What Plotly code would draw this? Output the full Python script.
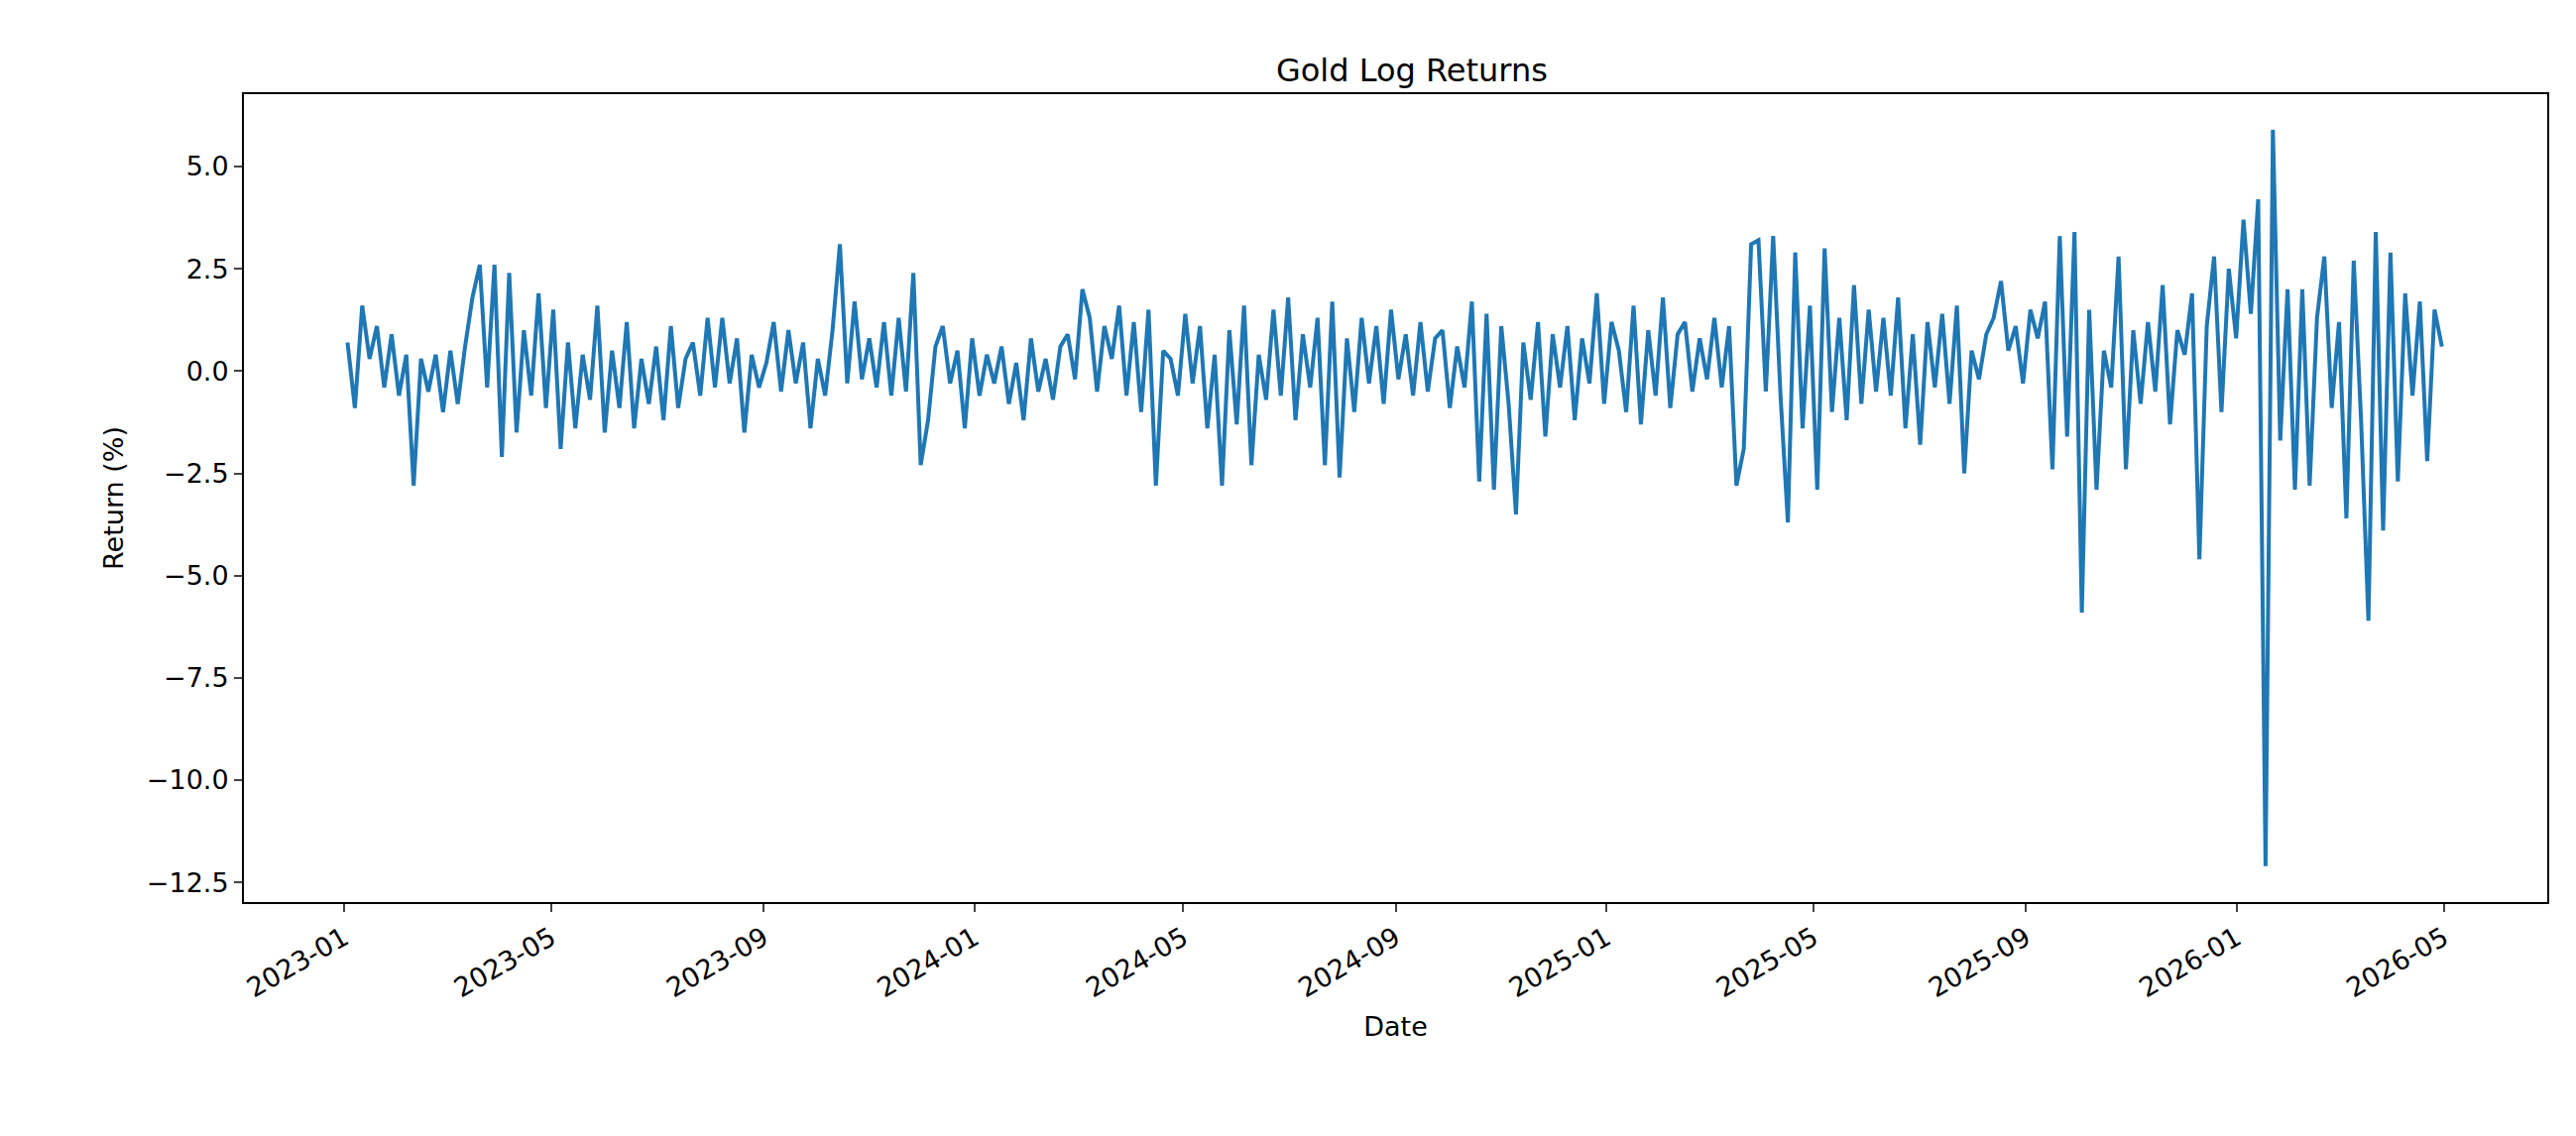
import pandas as pd
import plotly.graph_objects as go

# approximate readings, ~7 per month
returns = [
    0.7, -0.9, 1.6, 0.3, 1.1, -0.4, 0.9,
    -0.6, 0.4, -2.8, 0.3, -0.5, 0.4, -1.0,
    0.5, -0.8, 0.6, 1.8, 2.6, -0.4, 2.6,
    -2.1, 2.4, -1.5, 1.0, -0.6, 1.9, -0.9,
    1.5, -1.9, 0.7, -1.4, 0.4, -0.7, 1.6,
    -1.5, 0.5, -0.9, 1.2, -1.4, 0.3, -0.8,
    0.6, -1.2, 1.1, -0.9, 0.3, 0.7, -0.6,
    1.3, -0.4, 1.3, -0.3, 0.8, -1.5, 0.4,
    -0.4, 0.2, 1.2, -0.5, 1.0, -0.3, 0.7,
    -1.4, 0.3, -0.6, 1.0, 3.1, -0.3, 1.7,
    -0.2, 0.8, -0.4, 1.2, -0.6, 1.3, -0.5,
    2.4, -2.3, -1.2, 0.6, 1.1, -0.3, 0.5,
    -1.4, 0.8, -0.6, 0.4, -0.3, 0.6, -0.8,
    0.2, -1.2, 0.8, -0.5, 0.3, -0.7, 0.6,
    0.9, -0.2, 2.0, 1.3, -0.5, 1.1, 0.3,
    1.6, -0.6, 1.2, -1.0, 1.5, -2.8, 0.5,
    0.3, -0.6, 1.4, -0.3, 1.1, -1.4, 0.4,
    -2.8, 1.0, -1.3, 1.6, -2.3, 0.4, -0.7,
    1.5, -0.6, 1.8, -1.2, 0.9, -0.4, 1.3,
    -2.3, 1.7, -2.6, 0.8, -1.0, 1.3, -0.3,
    1.1, -0.8, 1.5, -0.2, 0.9, -0.6, 1.2,
    -0.5, 0.8, 1.0, -0.9, 0.6, -0.4, 1.7,
    -2.7, 1.4, -2.9, 1.1, -0.8, -3.5, 0.7,
    -0.7, 1.2, -1.6, 0.9, -0.4, 1.1, -1.2,
    0.8, -0.3, 1.9, -0.8, 1.2, 0.5, -1.0,
    1.6, -1.3, 1.0, -0.6, 1.8, -0.9, 0.9,
    1.2, -0.5, 0.8, -0.2, 1.3, -0.4, 1.1,
    -2.8, -1.9, 3.1, 3.2, -0.5, 3.3, -0.6,
    -3.7, 2.9, -1.4, 1.6, -2.9, 3.0, -1.0,
    1.3, -1.2, 2.1, -0.8, 1.5, -0.5, 1.3,
    -0.6, 1.8, -1.4, 0.9, -1.8, 1.2, -0.4,
    1.4, -0.8, 1.6, -2.5, 0.5, -0.2, 0.9,
    1.3, 2.2, 0.5, 1.1, -0.3, 1.5, 0.8,
    1.7, -2.4, 3.3, -1.6, 3.4, -5.9, 1.5,
    -2.9, 0.5, -0.4, 2.8, -2.4, 1.0, -0.8,
    1.2, -0.5, 2.1, -1.3, 1.0, 0.4, 1.9,
    -4.6, 1.1, 2.8, -1.0, 2.5, 0.8, 3.7,
    1.4, 4.2, -12.1, 5.9, -1.7, 2.0, -2.9,
    2.0, -2.8, 1.3, 2.8, -0.9, 1.2, -3.6,
    2.7, -1.2, -6.1, 3.4, -3.9, 2.9, -2.7, 1.9, -0.6, 1.7, -2.2, 1.5, 0.6,
]
dates = pd.date_range("2023-01-03", "2026-04-30", periods=len(returns))

tick_vals = pd.date_range("2023-01-01", "2026-05-01", freq="4MS")
tick_text = [d.strftime("%Y-%m") for d in tick_vals]

fig = go.Figure(go.Scatter(x=dates, y=returns, mode="lines",
                           line=dict(color="#1f77b4", width=4)))

axis_style = dict(showline=True, linecolor="black", linewidth=2, mirror=True,
                  ticks="outside", ticklen=8, tickwidth=2, showgrid=False,
                  zeroline=False, tickfont=dict(size=27, color="black"))

fig.update_layout(
    width=2598, height=1146,
    paper_bgcolor="white", plot_bgcolor="white",
    font=dict(family="DejaVu Sans", color="black"),
    title=dict(text="Gold Log Returns", x=0.545, xanchor="center", y=0.955,
               font=dict(size=32)),
    margin=dict(l=238, r=37, t=87, b=244),
    showlegend=False,
    xaxis=dict(axis_style, range=["2022-11-04", "2026-06-30"],
               tickvals=tick_vals, ticktext=tick_text, tickangle=-30,
               title=dict(text="Date", font=dict(size=27))),
    yaxis=dict(axis_style, range=[-12.98, 6.77],
               tickvals=[5, 2.5, 0, -2.5, -5, -7.5, -10, -12.5],
               ticktext=["5.0", "2.5", "0.0", "\u22122.5", "\u22125.0", "\u22127.5",
                         "\u221210.0", "\u221212.5"],
               title=dict(text="Return (%)", font=dict(size=27))),
)

fig.write_html("out.html")
